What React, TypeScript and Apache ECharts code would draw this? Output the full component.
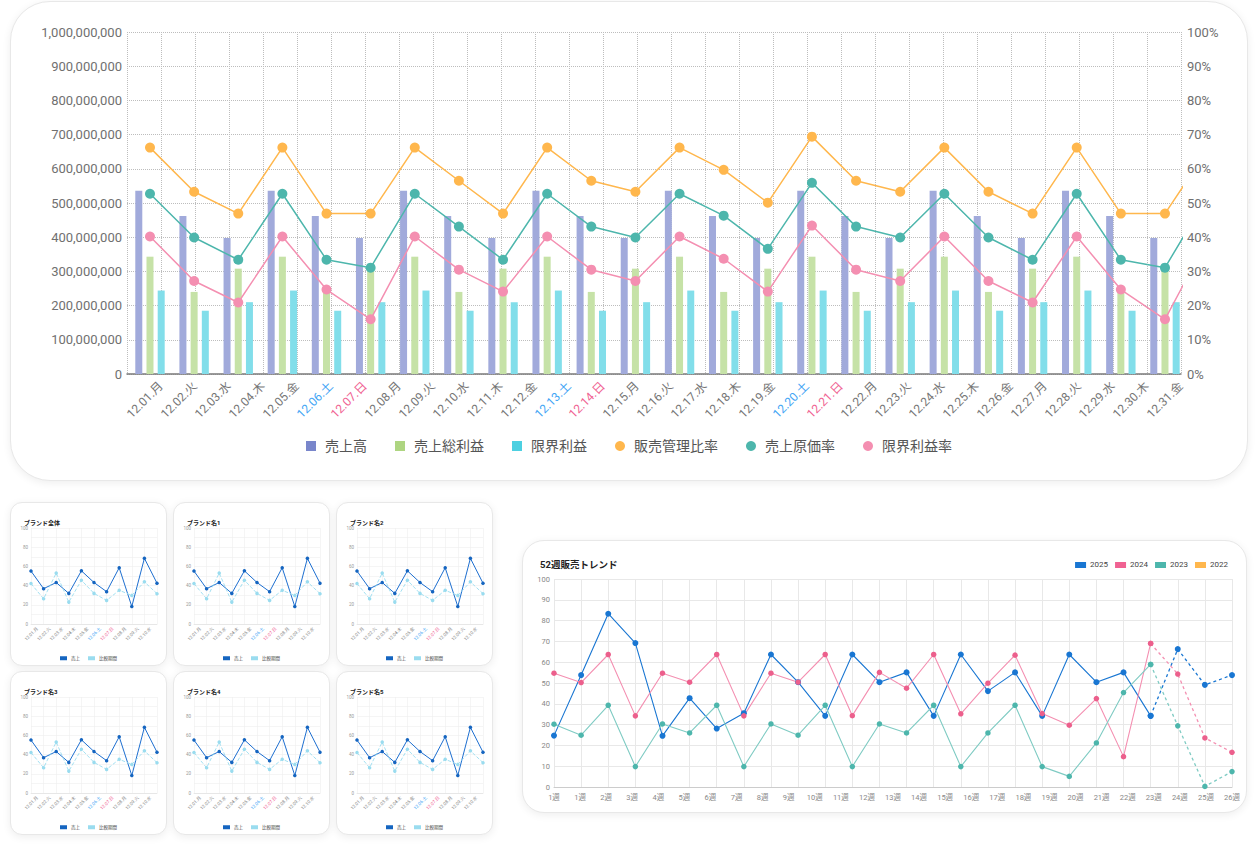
import React, { useEffect, useRef } from 'react';
import * as echarts from 'echarts';

const FONT = "Roboto, 'Noto Sans CJK JP', sans-serif";

// ---------- Top chart data ----------
const dayLabels = [
  '12.01.月', '12.02.火', '12.03.水', '12.04.木', '12.05.金', '12.06.土', '12.07.日', '12.08.月',
  '12.09.火', '12.10.水', '12.11.木', '12.12.金', '12.13.土', '12.14.日', '12.15.月', '12.16.火',
  '12.17.水', '12.18.木', '12.19.金', '12.20.土', '12.21.日', '12.22.月', '12.23.火', '12.24.水',
  '12.25.木', '12.26.金', '12.27.月', '12.28.火', '12.29.水', '12.30.木', '12.31.金',
];
const salesValues = [
  536e6, 462e6, 398e6, 536e6, 462e6, 398e6, 536e6, 462e6, 398e6, 536e6, 462e6, 398e6, 536e6,
  462e6, 398e6, 536e6, 462e6, 398e6, 536e6, 462e6, 398e6, 536e6, 462e6, 398e6,
];
const grossProfitValues = [
  343e6, 240e6, 308e6, 343e6, 240e6, 308e6, 343e6, 240e6, 308e6, 343e6, 240e6, 308e6, 343e6,
  240e6, 308e6, 343e6, 240e6, 308e6, 343e6, 240e6, 308e6, 343e6, 240e6, 308e6,
];
const marginalProfitValues = [
  244e6, 185e6, 210e6, 244e6, 185e6, 210e6, 244e6, 185e6, 210e6, 244e6, 185e6, 210e6, 244e6,
  185e6, 210e6, 244e6, 185e6, 210e6, 244e6, 185e6, 210e6, 244e6, 185e6, 210e6,
];
const sgaRatio = [
  66.2, 53.3, 46.9, 66.2, 46.9, 46.9, 66.2, 56.5, 46.9, 66.2, 56.5, 53.3, 66.2, 59.7, 50.1, 69.4,
  56.5, 53.3, 66.2, 53.3, 46.9, 66.2, 46.9, 46.9, 66.2,
];
const costRatio = [
  52.7, 39.9, 33.4, 52.7, 33.4, 31.1, 52.7, 43.1, 33.4, 52.7, 43.1, 39.9, 52.7, 46.3, 36.6, 55.9,
  43.1, 39.9, 52.7, 39.9, 33.4, 52.7, 33.4, 31.1, 52.7,
];
const marginalRatio = [
  40.2, 27.2, 20.9, 40.2, 24.7, 16.0, 40.2, 30.5, 24.1, 40.2, 30.5, 27.2, 40.2, 33.7, 24.1, 43.4,
  30.5, 27.2, 40.2, 27.2, 20.9, 40.2, 24.7, 16.0, 40.2,
];

// ---------- Small brand charts data ----------
const brandNames = ['ブランド全体', 'ブランド名1', 'ブランド名2', 'ブランド名3', 'ブランド名4', 'ブランド名5'];
const brandLabels = ['12.01.月', '12.02.火', '12.03.水', '12.04.木', '12.05.金', '12.06.土', '12.07.日', '12.08.月', '12.09.火', '12.10.水'];
const brandPoints = ['1', '2', '3', '4', '5', '6', '7', '8', '9', '10', '11'];
const brandSales = [55.1, 36.8, 43.2, 31.9, 55.4, 43.2, 33.7, 58.6, 18.2, 68.4, 42.5];
const brandCompare = [42.1, 26.3, 53.0, 22.8, 45.6, 31.9, 24.6, 35.1, 29.8, 43.9, 31.6];

// ---------- 52 week trend data ----------
const weekLabels = ['1週', '1週', '2週', '3週', '4週', '5週', '6週', '7週', '8週', '9週', '10週', '11週', '12週', '13週',
  '14週', '15週', '16週', '17週', '18週', '19週', '20週', '21週', '22週', '23週', '24週', '25週', '26週'];
const weekPoints = ['w1', 'w2', 'w3', 'w4', 'w5', 'w6', 'w7', 'w8', 'w9', 'w10', 'w11', 'w12', 'w13',
  'w14', 'w15', 'w16', 'w17', 'w18', 'w19', 'w20', 'w21', 'w22', 'w23', 'w24', 'w25', 'w26'];
const y2025 = [24.7, 53.8, 83.3, 69.2, 24.6, 42.7, 28.1, 35.5, 63.7, 50.4, 34.2, 63.7, 50.4, 55.1, 34.2, 63.7, 46.1, 55.1, 34.2, 63.7, 50.4, 55.1, 34.2, 66.3, 49.1, 53.8];
const y2024 = [54.7, 50.2, 63.7, 34.2, 54.7, 50.4, 63.7, 34.2, 54.7, 50.4, 63.7, 34.3, 55.1, 47.5, 63.7, 35.2, 49.9, 63.4, 35.3, 29.7, 42.5, 14.6, 69.0, 54.3, 23.6, 16.7];
const y2023 = [30.2, 24.9, 39.3, 9.8, 30.3, 26.0, 39.3, 9.8, 30.3, 24.9, 39.3, 9.8, 30.3, 26.0, 39.3, 9.8, 26.0, 39.3, 9.8, 5.1, 21.2, 45.4, 58.9, 29.4, 0.3, 7.4];
const y2022: number[] = [];
const actualUntil = 22; // solid up to this index, dashed (forecast) after

const dayKind = (v: string) => (v.indexOf('土') >= 0 ? 'sat' : v.indexOf('日') >= 0 ? 'sun' : 'wd');

function EChart({ option, style }: { option: any; style: React.CSSProperties }) {
  const ref = useRef<HTMLDivElement>(null);
  useEffect(() => {
    const chart = echarts.init(ref.current as HTMLDivElement, null, { renderer: 'svg' });
    chart.setOption(option);
    return () => chart.dispose();
  }, []);
  return <div ref={ref} style={style} />;
}

function topOption() {
  const xy = (arr: number[]) => arr.map((v, i) => [i, v]);
  return {
    animation: false,
    grid: [
      { left: 127, right: 77, top: 32, bottom: 111 },
      { left: 144, right: 60, top: 32, bottom: 111 },
    ],
    legend: {
      left: 'center', top: 434, itemWidth: 10, itemHeight: 10, itemGap: 28,
      textStyle: { fontSize: 14, color: '#555', fontFamily: FONT, padding: [0, 0, 0, 4] },
      data: [
        { name: '売上高', icon: 'rect', itemStyle: { color: '#7986CB' } },
        { name: '売上総利益', icon: 'rect', itemStyle: { color: '#AED581' } },
        { name: '限界利益', icon: 'rect', itemStyle: { color: '#4DD0E1' } },
        { name: '販売管理比率', icon: 'circle', itemStyle: { color: '#FFB74D' } },
        { name: '売上原価率', icon: 'circle', itemStyle: { color: '#4DB6AC' } },
        { name: '限界利益率', icon: 'circle', itemStyle: { color: '#F48FB1' } },
      ],
    },
    xAxis: [
      {
        type: 'category', gridIndex: 0, data: dayLabels, boundaryGap: true,
        axisLine: { lineStyle: { color: '#7a7a7a', width: 1.5 } },
        axisTick: { show: false }, axisLabel: { show: false },
        splitLine: { show: true, interval: 0, lineStyle: { color: '#bdbdbd', type: 'dotted' } },
      },
      { type: 'value', gridIndex: 0, min: -0.521, max: 23.363, show: false, splitLine: { show: false } },
      {
        type: 'category', gridIndex: 1, data: dayLabels, boundaryGap: true,
        axisLine: { show: false }, axisTick: { show: false }, splitLine: { show: false },
        axisLabel: {
          interval: 0, rotate: 45, margin: 10, fontSize: 12, fontFamily: FONT, color: '#757575',
          formatter: (v: string) => `{${dayKind(v)}|${v}}`,
          rich: {
            wd: { color: '#757575', fontSize: 12, fontFamily: FONT },
            sat: { color: '#42A5F5', fontSize: 12, fontFamily: FONT },
            sun: { color: '#F06292', fontSize: 12, fontFamily: FONT },
          },
        },
      },
    ],
    yAxis: [
      {
        type: 'value', gridIndex: 0, min: 0, max: 1e9, interval: 1e8,
        axisLine: { show: false }, axisTick: { show: false },
        axisLabel: { fontSize: 13, color: '#707070', margin: 5, fontFamily: FONT, formatter: (v: number) => v.toLocaleString('en-US') },
        splitLine: { show: true, lineStyle: { color: '#bdbdbd', type: 'dotted' } },
      },
      {
        type: 'value', gridIndex: 0, position: 'right', min: 0, max: 100, interval: 10,
        axisLine: { show: false }, axisTick: { show: false },
        axisLabel: { fontSize: 13, color: '#707070', margin: 6, fontFamily: FONT, formatter: '{value}%' },
        splitLine: { show: false },
      },
      { type: 'value', gridIndex: 1, show: false, splitLine: { show: false } },
    ],
    series: [
      { type: 'bar', name: '売上高', xAxisIndex: 1, yAxisIndex: 0, data: xy(salesValues), barWidth: 7, barGap: '60%', itemStyle: { color: '#A1AADB' } },
      { type: 'bar', name: '売上総利益', xAxisIndex: 1, yAxisIndex: 0, data: xy(grossProfitValues), barWidth: 7, barGap: '60%', itemStyle: { color: '#C6E2A7' } },
      { type: 'bar', name: '限界利益', xAxisIndex: 1, yAxisIndex: 0, data: xy(marginalProfitValues), barWidth: 7, barGap: '60%', itemStyle: { color: '#82DEEA' } },
      { type: 'line', name: '販売管理比率', xAxisIndex: 1, yAxisIndex: 1, data: xy(sgaRatio), symbol: 'circle', symbolSize: 10, lineStyle: { width: 1.5, color: '#FFB74D' }, itemStyle: { color: '#FFB74D' } },
      { type: 'line', name: '売上原価率', xAxisIndex: 1, yAxisIndex: 1, data: xy(costRatio), symbol: 'circle', symbolSize: 10, lineStyle: { width: 1.5, color: '#4DB6AC' }, itemStyle: { color: '#4DB6AC' } },
      { type: 'line', name: '限界利益率', xAxisIndex: 1, yAxisIndex: 1, data: xy(marginalRatio), symbol: 'circle', symbolSize: 10, lineStyle: { width: 1.5, color: '#F48FB1' }, itemStyle: { color: '#F48FB1' } },
    ],
  };
}

function brandOption(title: string) {
  return {
    animation: false,
    title: { text: title, left: 9, top: 12, textStyle: { fontSize: 6, fontWeight: 'bold', color: '#222', fontFamily: FONT } },
    grid: { left: 21, right: 10, top: 26, bottom: 42 },
    legend: {
      left: 'center', top: 149, itemWidth: 7, itemHeight: 4, itemGap: 8,
      textStyle: { fontSize: 4.5, color: '#444', fontFamily: FONT, padding: [0, 0, 0, -1] },
      data: [
        { name: '売上', icon: 'rect', itemStyle: { color: '#1565C0' } },
        { name: '比較期間', icon: 'rect', itemStyle: { color: '#9ADCEF' } },
      ],
    },
    xAxis: [
      {
        type: 'category', data: brandPoints, boundaryGap: false,
        axisLine: { lineStyle: { color: '#dddddd', width: 0.6 } }, axisTick: { show: false }, axisLabel: { show: false },
        splitLine: { show: true, interval: 0, lineStyle: { color: '#eeeeee', width: 0.6 } },
      },
      {
        type: 'category', data: brandLabels, boundaryGap: true, position: 'bottom',
        axisLine: { show: false }, axisTick: { show: false }, splitLine: { show: false },
        axisLabel: {
          interval: 0, rotate: 45, margin: 4, fontSize: 4.5, fontFamily: FONT, color: '#888',
          formatter: (v: string) => `{${dayKind(v)}|${v}}`,
          rich: {
            wd: { color: '#888', fontSize: 4.5, fontFamily: FONT },
            sat: { color: '#42A5F5', fontSize: 4.5, fontFamily: FONT },
            sun: { color: '#F06292', fontSize: 4.5, fontFamily: FONT },
          },
        },
      },
    ],
    yAxis: {
      type: 'value', min: 0, max: 100, interval: 10,
      axisLine: { show: false }, axisTick: { show: false },
      axisLabel: { fontSize: 4.5, color: '#999', margin: 3, fontFamily: FONT, formatter: (v: number) => (v % 20 === 0 ? String(v) : '') },
      splitLine: { lineStyle: { color: '#eeeeee', width: 0.6 } },
    },
    series: [
      { type: 'line', name: '売上', data: brandSales, symbol: 'circle', symbolSize: 3.5, lineStyle: { width: 1, color: '#1E6FD0' }, itemStyle: { color: '#1565C0' } },
      { type: 'line', name: '比較期間', data: brandCompare, symbol: 'circle', symbolSize: 3.5, lineStyle: { width: 0.9, type: 'dashed', color: '#9ADCEF' }, itemStyle: { color: '#9ADCEF' } },
    ],
  };
}

function weekOption() {
  const solid = (arr: number[]) => arr.map((v, i) => (i <= actualUntil ? v : null));
  const dashed = (arr: number[]) => arr.map((v, i) => (i >= actualUntil ? v : null));
  const mk = (name: string, arr: number[], color: string, lineColor: string, size: number) => [
    { type: 'line', name, data: solid(arr), symbol: 'circle', symbolSize: size, lineStyle: { width: 1.1, color: lineColor }, itemStyle: { color } },
    { type: 'line', name, data: dashed(arr), symbol: 'circle', symbolSize: size, lineStyle: { width: 1.3, color: lineColor, type: [3, 3] }, itemStyle: { color } },
  ];
  return {
    animation: false,
    title: { text: '52週販売トレンド', left: 13, top: 15, textStyle: { fontSize: 9.5, fontWeight: 'bold', color: '#222', fontFamily: FONT } },
    legend: {
      right: 14, top: 16, itemWidth: 11, itemHeight: 6, itemGap: 7,
      textStyle: { fontSize: 8, color: '#444', fontFamily: FONT, padding: [0, 0, 0, -1] },
      data: [
        { name: '2025', icon: 'rect', itemStyle: { color: '#1976D2' } },
        { name: '2024', icon: 'rect', itemStyle: { color: '#F06292' } },
        { name: '2023', icon: 'rect', itemStyle: { color: '#4DB6AC' } },
        { name: '2022', icon: 'rect', itemStyle: { color: '#FFB74D' } },
      ],
    },
    grid: { left: 32, right: 15, top: 39, bottom: 26 },
    xAxis: [
      {
        type: 'category', data: weekPoints, boundaryGap: false,
        axisLine: { lineStyle: { color: '#cccccc' } }, axisTick: { show: false }, axisLabel: { show: false },
        splitLine: { show: true, interval: 0, lineStyle: { color: '#e8e8e8' } },
      },
      {
        type: 'category', data: weekLabels, boundaryGap: false, position: 'bottom',
        axisLine: { show: false }, axisTick: { show: false }, splitLine: { show: false },
        axisLabel: { interval: 0, margin: 7, fontSize: 7.5, color: '#888', fontFamily: FONT },
      },
    ],
    yAxis: {
      type: 'value', min: 0, max: 100, interval: 10,
      axisLine: { show: false }, axisTick: { show: false },
      axisLabel: { fontSize: 7.5, color: '#888', margin: 4, fontFamily: FONT },
      splitLine: { lineStyle: { color: '#e8e8e8' } },
    },
    series: [
      ...mk('2025', y2025, '#1976D2', '#1976D2', 6),
      ...mk('2024', y2024, '#EC5F8C', '#F48FB1', 5.5),
      ...mk('2023', y2023, '#4DB6AC', '#7FCBC3', 5.5),
      { type: 'line', name: '2022', data: y2022, itemStyle: { color: '#FFB74D' } },
    ],
  };
}

const cardStyle = (left: number, top: number, width: number, height: number, radius: number): React.CSSProperties => ({
  position: 'absolute', left, top, width, height, borderRadius: radius, background: '#fff',
  border: '1px solid #e8e8e8', boxSizing: 'border-box', boxShadow: '0 2px 8px rgba(0,0,0,0.07)',
});
const chartStyle = (left: number, top: number, width: number, height: number): React.CSSProperties => ({
  position: 'absolute', left, top, width, height,
});

const cardCols = [9.5, 172.5, 335.5];
const cardRows = [502, 671];

export default function App() {
  return (
    <div style={{ position: 'absolute', left: 0, top: 0, width: 1258, height: 853, background: '#fff' }}>
      <div style={cardStyle(10, 1, 1238, 480, 40)} />
      <EChart option={topOption()} style={chartStyle(0, 0, 1258, 485)} />

      {brandNames.map((name, i) => {
        const x = cardCols[i % 3];
        const y = cardRows[Math.floor(i / 3)];
        return (
          <React.Fragment key={name}>
            <div style={cardStyle(x, y, 157, 164, 12)} />
            <EChart option={brandOption(name)} style={chartStyle(x, y, 157, 164)} />
          </React.Fragment>
        );
      })}

      <div style={cardStyle(522, 540, 725, 273, 22)} />
      <EChart option={weekOption()} style={chartStyle(522, 540, 725, 273)} />
    </div>
  );
}
